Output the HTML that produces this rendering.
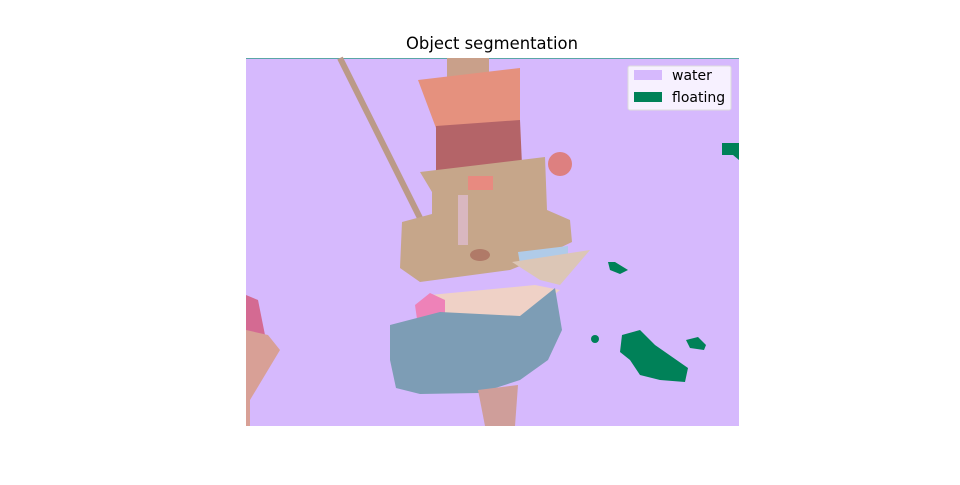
<!DOCTYPE html>
<html><head><meta charset="utf-8"><style>
body{margin:0;background:#fff;width:960px;height:480px;overflow:hidden;font-family:"Liberation Sans","DejaVu Sans",sans-serif}
</style></head><body>
<svg width="960" height="480">
<text x="492" y="49" text-anchor="middle" font-size="16.4" font-family="DejaVu Sans, Liberation Sans, sans-serif">Object segmentation</text>
<g>
<rect x="246" y="58" width="493" height="368" fill="#d6b9fd"/>
<line x1="246" y1="58.5" x2="739" y2="58.5" stroke="#5aa6a6" stroke-width="1"/>
<line x1="340" y1="58" x2="420" y2="218" stroke="#bb9a88" stroke-width="6"/>
<rect x="447" y="58" width="42" height="22" fill="#c9a08a"/>
<polygon points="418,80 520,68 520,125 436,128" fill="#e5917e"/>
<polygon points="436,126 520,120 522,165 436,172" fill="#b46468"/>
<polygon points="420,172 545,157 547,210 570,220 572,242 530,262 510,270 420,282 400,268 402,222 432,214 432,192" fill="#c6a68a"/>
<rect x="468" y="176" width="25" height="14" fill="#e88a80"/>
<rect x="458" y="195" width="10" height="50" fill="#d9b7c0"/>
<ellipse cx="480" cy="255" rx="10" ry="6" fill="#b07a68"/>
<circle cx="560" cy="164" r="12" fill="#dd8080"/>
<polygon points="518,252 568,246 568,262 520,264" fill="#b0cbe8"/>
<polygon points="512,262 590,250 560,285 540,280" fill="#dcc6b6"/>
<polygon points="430,295 535,285 560,290 520,322 440,326" fill="#efd1c6"/>
<polygon points="415,305 430,293 445,300 445,324 418,326" fill="#ee82b8"/>
<polygon points="390,325 440,312 520,316 555,288 562,330 548,360 520,380 480,393 420,394 396,388 390,360" fill="#7d9db5"/>
<polygon points="478,390 518,385 515,426 485,426" fill="#cf9e9a"/>
<polygon points="246,295 258,300 265,335 246,340" fill="#d46a92"/>
<polygon points="246,330 268,335 280,350 262,380 250,400 250,426 246,426" fill="#d8a096"/>
<polygon points="622,335 640,330 655,345 688,368 685,382 660,380 640,375 630,360 620,352" fill="#008158"/>
<polygon points="722,143 739,143 739,160 733,155 722,155" fill="#008158"/>
<polygon points="608,262 615,262 628,270 620,274 610,270" fill="#008158"/>
<polygon points="686,340 698,337 706,345 704,350 690,348" fill="#008158"/>
<circle cx="595" cy="339" r="4" fill="#008158"/>
</g>
<g>
<rect x="628" y="66" width="103" height="44" fill="#fff" fill-opacity="0.8" stroke="#ddd" rx="2"/>
<rect x="634" y="70" width="28" height="10" fill="#d6b9fd"/>
<text x="672" y="80" font-size="14" font-family="DejaVu Sans, Liberation Sans, sans-serif">water</text>
<rect x="634" y="92" width="28" height="10" fill="#008158"/>
<text x="672" y="102" font-size="14" font-family="DejaVu Sans, Liberation Sans, sans-serif">floating</text>
</g>
</svg>
</body></html>
